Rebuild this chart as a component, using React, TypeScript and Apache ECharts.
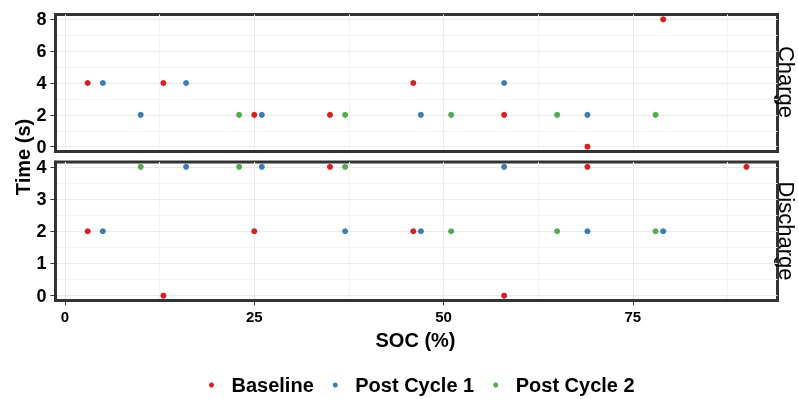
import React, { useEffect, useRef } from "react";
import * as echarts from "echarts";

const seriesNames = ["Baseline", "Post Cycle 1", "Post Cycle 2"];
const colors = ["#E41A1C", "#377EB8", "#4DAF4A"];
const panelNames = ["Charge", "Discharge"];
const xTicks = [0, 25, 50, 75];
const chargeYTicks = [0, 2, 4, 6, 8];
const dischargeYTicks = [0, 1, 2, 3, 4];

// [SOC %, Time s]
const chargeBaseline = [[3, 4], [13, 4], [25, 2], [35, 2], [46, 4], [58, 2], [69, 0], [79, 8]];
const chargeCycle1 = [[5, 4], [10, 2], [16, 4], [26, 2], [47, 2], [58, 4], [69, 2]];
const chargeCycle2 = [[23, 2], [37, 2], [51, 2], [65, 2], [78, 2]];
const dischargeBaseline = [[3, 2], [13, 0], [25, 2], [35, 4], [46, 2], [58, 0], [69, 4], [90, 4]];
const dischargeCycle1 = [[5, 2], [16, 4], [26, 4], [37, 2], [47, 2], [58, 4], [69, 2], [79, 2]];
const dischargeCycle2 = [[10, 4], [23, 4], [37, 4], [51, 2], [65, 2], [78, 2]];

const FONT = "'Liberation Sans', Arial, sans-serif";

export default function App() {
  const ref = useRef<HTMLDivElement>(null);
  useEffect(() => {
    if (!ref.current) return;
    const chart = echarts.init(ref.current, undefined, { renderer: "svg" });
    const split = { show: true, lineStyle: { color: "#ebebeb", width: 1 } };
    const minorSplit = { show: true, lineStyle: { color: "#f4f4f4", width: 1 } };
    const axisLine = { show: true, onZero: false, lineStyle: { color: "#333", width: 3 } };
    const mkX = (gridIndex: number, showLabels: boolean) => ({
      type: "value",
      gridIndex,
      min: -1.25,
      max: 94.1,
      minInterval: 25,
      maxInterval: 25,
      splitNumber: 4,
      axisLine,
      axisTick: { show: showLabels, length: 5, lineStyle: { color: "#333", width: 1 }, customValues: xTicks },
      axisLabel: {
        show: showLabels,
        customValues: xTicks,
        fontSize: 15,
        fontWeight: "bold",
        color: "#000",
        fontFamily: FONT,
        margin: 8,
      },
      splitLine: split,
      minorTick: { show: false, splitNumber: 2 },
      minorSplitLine: minorSplit,
    });
    const mkY = (gridIndex: number, min: number, max: number, step: number, ticks: number[]) => ({
      type: "value",
      gridIndex,
      min,
      max,
      minInterval: step,
      maxInterval: step,
      splitNumber: 4,
      axisLine,
      axisTick: { show: true, length: 5, lineStyle: { color: "#333", width: 1 }, customValues: ticks },
      axisLabel: {
        customValues: ticks,
        fontSize: 18,
        fontWeight: "bold",
        color: "#000",
        fontFamily: FONT,
        margin: 9,
      },
      splitLine: split,
      minorTick: { show: false, splitNumber: 2 },
      minorSplitLine: minorSplit,
    });
    const panels = [
      [chargeBaseline, chargeCycle1, chargeCycle2],
      [dischargeBaseline, dischargeCycle1, dischargeCycle2],
    ];
    const series: any[] = [];
    panels.forEach((group, p) => {
      group.forEach((data, i) => {
        series.push({
          type: "scatter",
          name: seriesNames[i],
          xAxisIndex: p,
          yAxisIndex: p,
          data,
          symbolSize: 6,
          itemStyle: { color: colors[i], opacity: 1 },
        });
      });
    });
    const gridBase = { show: true, borderColor: "#333", borderWidth: 3, backgroundColor: "transparent", left: 55.5, width: 722 };
    chart.setOption({
      animation: false,
      textStyle: { fontFamily: FONT },
      grid: [
        { ...gridBase, top: 14.5, height: 137 },
        { ...gridBase, top: 162, height: 138.5 },
      ],
      xAxis: [mkX(0, false), mkX(1, true)],
      yAxis: [mkY(0, -0.3, 8.3, 2, chargeYTicks), mkY(1, -0.15, 4.15, 1, dischargeYTicks)],
      legend: {
        data: seriesNames,
        left: 204,
        top: 370,
        icon: "circle",
        itemWidth: 30,
        itemHeight: 5,
        itemGap: 19,
        itemStyle: { opacity: 1 },
        textStyle: { fontSize: 20, fontWeight: "bold", color: "#000", fontFamily: FONT },
      },
      graphic: [
        {
          type: "text",
          x: 415.5,
          y: 340,
          style: { text: "SOC (%)", font: `bold 20px ${FONT}`, fill: "#000", align: "center", verticalAlign: "middle" },
        },
        {
          type: "text",
          x: 22.5,
          y: 157,
          rotation: Math.PI / 2,
          style: { text: "Time (s)", font: `bold 20px ${FONT}`, fill: "#000", align: "center", verticalAlign: "middle" },
        },
        {
          type: "text",
          x: 786.5,
          y: 82,
          rotation: -Math.PI / 2,
          style: { text: panelNames[0], font: `22px ${FONT}`, fill: "#000", align: "center", verticalAlign: "middle" },
        },
        {
          type: "text",
          x: 786.5,
          y: 231,
          rotation: -Math.PI / 2,
          style: { text: panelNames[1], font: `22px ${FONT}`, fill: "#000", align: "center", verticalAlign: "middle" },
        },
      ],
      series,
    });
    return () => chart.dispose();
  }, []);
  return <div ref={ref} style={{ position: "fixed", left: 0, top: 0, width: 798, height: 399 }} />;
}
